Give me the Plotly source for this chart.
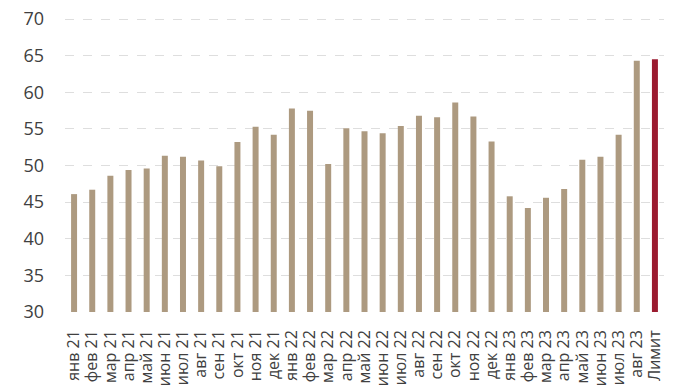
import plotly.graph_objects as go

categories = ["янв 21","фев 21","мар 21","апр 21","май 21","июн 21","июл 21","авг 21","сен 21","окт 21","ноя 21","дек 21",
              "янв 22","фев 22","мар 22","апр 22","май 22","июн 22","июл 22","авг 22","сен 22","окт 22","ноя 22","дек 22",
              "янв 23","фев 23","мар 23","апр 23","май 23","июн 23","июл 23","авг 23","Лимит"]
values = [46.1, 46.7, 48.6, 49.4, 49.6, 51.35, 51.2, 50.7, 49.9, 53.2, 55.3, 54.2,
          57.8, 57.5, 50.2, 55.1, 54.7, 54.4, 55.4, 56.8, 56.6, 58.6, 56.7, 53.3,
          45.8, 44.2, 45.6, 46.8, 50.8, 51.2, 54.2, 64.3, 64.5]
y_ticks = [30, 35, 40, 45, 50, 55, 60, 65, 70]
y_min = 30

colors = ["#ad9a80"] * (len(categories) - 1) + ["#9b1b30"]

fig = go.Figure(go.Bar(x=categories, y=[v - y_min for v in values], base=y_min,
                       marker=dict(color=colors, line=dict(width=0))))

fig.update_layout(
    width=675, height=390,
    margin=dict(l=65, r=11, t=18, b=78),
    paper_bgcolor="white", plot_bgcolor="white",
    bargap=0.67,
    showlegend=False,
    font=dict(family="Open Sans", color="#404040"),
)
fig.update_yaxes(range=[30, 70.15], tickvals=y_ticks, showgrid=True, gridcolor="#dedede",
                 griddash="dash", gridwidth=1, zeroline=False, showline=False,
                 tickfont=dict(size=18, color="#404040"), ticks="", ticklabelstandoff=20,
                 ticklabeloverflow="allow", automargin=False)
fig.update_xaxes(tickmode="array", tickvals=categories, ticktext=categories,
                 tickangle=-90, tickfont=dict(size=16, color="#404040"), showline=False,
                 ticks="", showgrid=False, ticklabelstandoff=14, ticklabeloverflow="allow",
                 automargin=False)

fig.write_html("out.html", config={"displayModeBar": False},
               post_script="document.body.style.margin='0px';")
